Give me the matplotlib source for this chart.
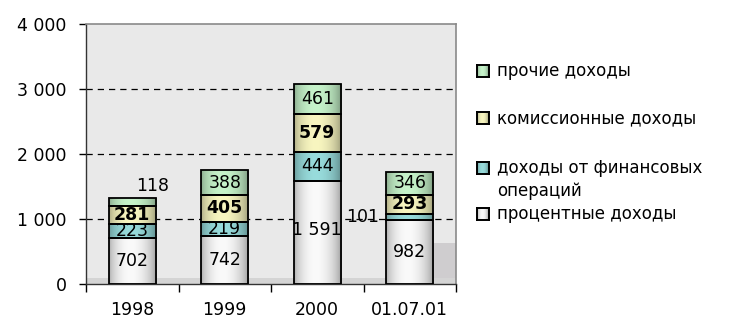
import numpy as np
import matplotlib
matplotlib.use("Agg")
import matplotlib.pyplot as plt
from matplotlib.patches import Rectangle
from matplotlib.colors import to_rgb

categories = ["1998", "1999", "2000", "01.07.01"]
interest = [702, 742, 1591, 982]
financial = [223, 219, 444, 101]
commission = [281, 405, 579, 293]
other = [118, 388, 461, 346]

series_names = ["процентные доходы", "доходы от финансовых операций",
                "комиссионные доходы", "прочие доходы"]
series_values = [interest, financial, commission, other]
series_colors = ["#fafafa", "#98dcdc", "#f8f6c0", "#c6f3ca"]
yticks = [0, 1000, 2000, 3000, 4000]
ytick_labels = ["0", "1 000", "2 000", "3 000", "4 000"]

W, H = 739, 320
fig = plt.figure(figsize=(W / 100, H / 100), dpi=100)
ax = fig.add_axes([86 / W, 1 - 284 / H, 370 / W, 260 / H])
ax.set_facecolor("#e9e9e9")


def gradient_colors(color, n=64):
    peak = np.array(to_rgb(color))
    t = np.linspace(0, 1, n)
    c = 0.45
    u = np.where(t < c, (c - t) / c, (t - c) / (1 - c))
    s = np.cos(u * np.pi / 2) ** 0.6
    dark_l = peak * 0.68
    dark_r = peak * 0.58
    dark = np.where(t[:, None] < c, dark_l[None, :], dark_r[None, :])
    cols = dark + (peak[None, :] - dark) * s[:, None]
    return np.clip(cols, 0, 1)


x = np.arange(len(categories))
width = 0.51
bottoms = np.zeros(len(categories))
all_bars = []
for vals, col in zip(series_values, series_colors):
    bars = ax.bar(x, vals, width, bottom=bottoms, color=col, edgecolor="black",
                  linewidth=1.3, zorder=3)
    for b in bars:
        b.set_facecolor("none")
        ext = (b.get_x(), b.get_x() + b.get_width(), b.get_y(), b.get_y() + b.get_height())
        im = ax.imshow(gradient_colors(col)[None, :, :], extent=ext, aspect="auto",
                       interpolation="bilinear", zorder=2)
        im.set_clip_path(b)
    all_bars.append((bars, vals, bottoms.copy()))
    bottoms = bottoms + np.array(vals)

# decorative darker texture zones in the plot area
ax.add_patch(Rectangle((0.935, 0), 0.065, 0.158, transform=ax.transAxes,
                       facecolor="#cfcdcf", edgecolor="none", zorder=0.5))
ax.add_patch(Rectangle((0, 0), 1, 0.022, transform=ax.transAxes,
                       facecolor="#d4d4d4", edgecolor="none", zorder=0.5))

ax.set_xlim(-0.5, len(categories) - 0.5)
ax.set_ylim(0, 4000)

# grid
for g in [1000, 2000, 3000]:
    ax.axhline(g, color="black", lw=0.9, ls=(0, (5, 4)), zorder=1)


def fmt(v):
    return f"{v:,}".replace(",", " ")


lab_fs = 12.5
for si, (bars, vals, bots) in enumerate(all_bars):
    for i, (b, v, bt) in enumerate(zip(bars, vals, bots)):
        cx = b.get_x() + b.get_width() / 2
        cy = bt + v / 2
        weight = "bold" if si == 2 else "normal"
        ha = "center"
        if si == 3 and i == 0:
            cx = cx + 0.22
            cy = bt + v + 180
        elif si == 1 and i == 3:
            cx = b.get_x() - 0.08
            ha = "right"
        elif si == 0 and i == 2:
            cy = 830
        ax.text(cx, cy, fmt(v), ha=ha, va="center", fontsize=lab_fs,
                fontweight=weight, color="black", zorder=5)

ax.set_yticks(yticks)
ax.set_yticklabels(ytick_labels)
ax.set_xticks(x)
ax.set_xticklabels(categories)
ax.tick_params(axis="y", direction="out", length=5, width=1, pad=9, labelsize=12.5)
ax.tick_params(axis="x", which="major", length=0, pad=12, labelsize=12.5)
ax.set_xticks(np.arange(-0.5, len(categories)), minor=True)
ax.tick_params(axis="x", which="minor", direction="out", length=6, width=1)

for side in ["top", "right"]:
    ax.spines[side].set_color("#8a8a8a")
    ax.spines[side].set_linewidth(1.2)
for side in ["left", "bottom"]:
    ax.spines[side].set_color("#333333")
    ax.spines[side].set_linewidth(1.0)

# legend (manual, top to bottom)
legend_order = [3, 2, 1, 0]
marker_centers = [71, 118, 168, 214]
leg_fs = 12
for k, si in enumerate(legend_order):
    yc = marker_centers[k]
    mx0, ms = 477, 12
    cols = gradient_colors(series_colors[si], 16)
    lax = fig.add_axes([mx0 / W, 1 - (yc + ms / 2) / H, ms / W, ms / H])
    lax.imshow(cols[None, :, :], aspect="auto", interpolation="bilinear")
    lax.set_xticks([])
    lax.set_yticks([])
    for sp in lax.spines.values():
        sp.set_linewidth(1.4)
        sp.set_color("black")
    name = series_names[si]
    if si == 1:
        first, second = name.rsplit(" ", 1)
        fig.text(497 / W, 1 - (yc + 5) / H, first, ha="left",
                 va="baseline", fontsize=leg_fs, color="black")
        fig.text(497 / W, 1 - (yc + 28) / H, second, ha="left",
                 va="baseline", fontsize=leg_fs, color="black")
    else:
        fig.text(497 / W, 1 - (yc + 5) / H, name, ha="left", va="baseline",
                 fontsize=leg_fs, color="black")

fig.savefig("out.png", dpi=100)
